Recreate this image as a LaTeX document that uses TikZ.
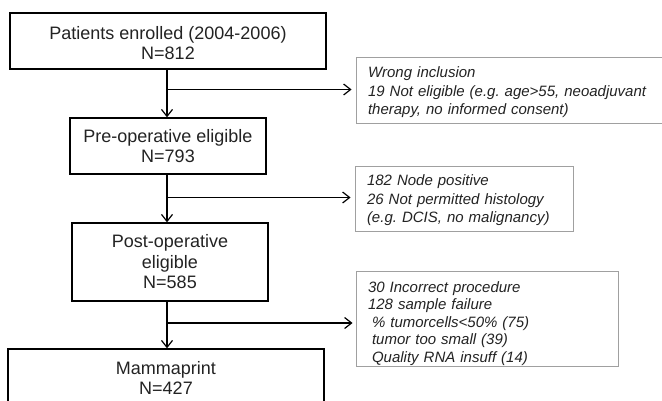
\documentclass[tikz,border=0pt]{standalone}
\usepackage{fontspec}
\setmainfont{Liberation Sans}
\usetikzlibrary{arrows.meta}
\definecolor{textc}{RGB}{35,35,35}
\definecolor{notec}{RGB}{160,160,160}
\frenchspacing
\begin{document}
\begin{tikzpicture}[x=1pt,y=-1pt,
  mainbox/.style={draw=black, line width=1.3pt, rectangle, align=center, text=textc,
    font=\fontsize{18}{20.5}\selectfont\frenchspacing, inner sep=0pt},
  notebox/.style={draw=notec, line width=0.9pt, rectangle, align=left, text=textc,
    font=\fontsize{15}{18.5}\selectfont\itshape\frenchspacing, inner xsep=12pt, inner ysep=0pt},
  link/.style={line width=1.3pt},
  flow/.style={line width=1.3pt, -{Straight Barb[length=7pt,width=11pt,line width=1.2pt]}}]
\clip (0,0) rectangle (662,400);
\fill[white] (0,0) rectangle (662,400);
% main boxes
\node[mainbox, minimum width=316pt, minimum height=56pt] (b1) at (168,41) {\rule{0pt}{17pt}Patients enrolled (2004-2006)\\N=812};
\node[mainbox, minimum width=196pt, minimum height=56pt] (b2) at (168,146) {Pre-operative eligible\\N=793};
\node[mainbox, minimum width=196pt, minimum height=78pt] (b3) at (170,262) {Post-operative\\eligible\\N=585};
\node[mainbox, minimum width=316pt, minimum height=58pt] (b4) at (166,378) {Mammaprint\\N=427};
% note boxes
\node[notebox, text width=284pt, minimum height=66pt] (g1) at (510,90)
  {\rule{0pt}{16pt}Wrong inclusion\\19 Not eligible (e.g. age>55, neoadjuvant\\therapy, no informed consent)};
\node[notebox, text width=194pt, minimum height=65pt] (g2) at (464,198.5)
  {\rule{0pt}{15pt}182 Node positive\\26 Not permitted histology\\(e.g. DCIS, no malignancy)};
\node[notebox, text width=238pt, minimum height=95pt, font=\fontsize{15}{17.5}\selectfont\itshape\frenchspacing] (g3) at (487,318.5)
  {\rule{0pt}{21pt}30 Incorrect procedure\\128 sample failure\\\hspace*{4pt}\% tumorcells<50\% (75)\\\hspace*{4pt}tumor too small (39)\\\hspace*{4pt}Quality RNA insuff (14)};
% junctions
\coordinate (j1) at (167,89.5);
\coordinate (j2) at (167,197.5);
\coordinate (j3) at (167,323);
% connectors
\draw[link] (b1.south -| j1) -- (j1);
\draw[flow] (j1) -- (j1 |- b2.north);
\draw[flow, shorten >=4pt] (j1) -- (j1 -| g1.west);
\draw[link] (b2.south -| j2) -- (j2);
\draw[flow] (j2) -- (j2 |- b3.north);
\draw[flow, shorten >=4pt] (j2) -- (j2 -| g2.west);
\draw[link] (b3.south -| j3) -- (j3);
\draw[flow] (j3) -- (j3 |- b4.north);
\draw[flow, shorten >=3pt] (j3) -- (j3 -| g3.west);
\end{tikzpicture}
\end{document}
